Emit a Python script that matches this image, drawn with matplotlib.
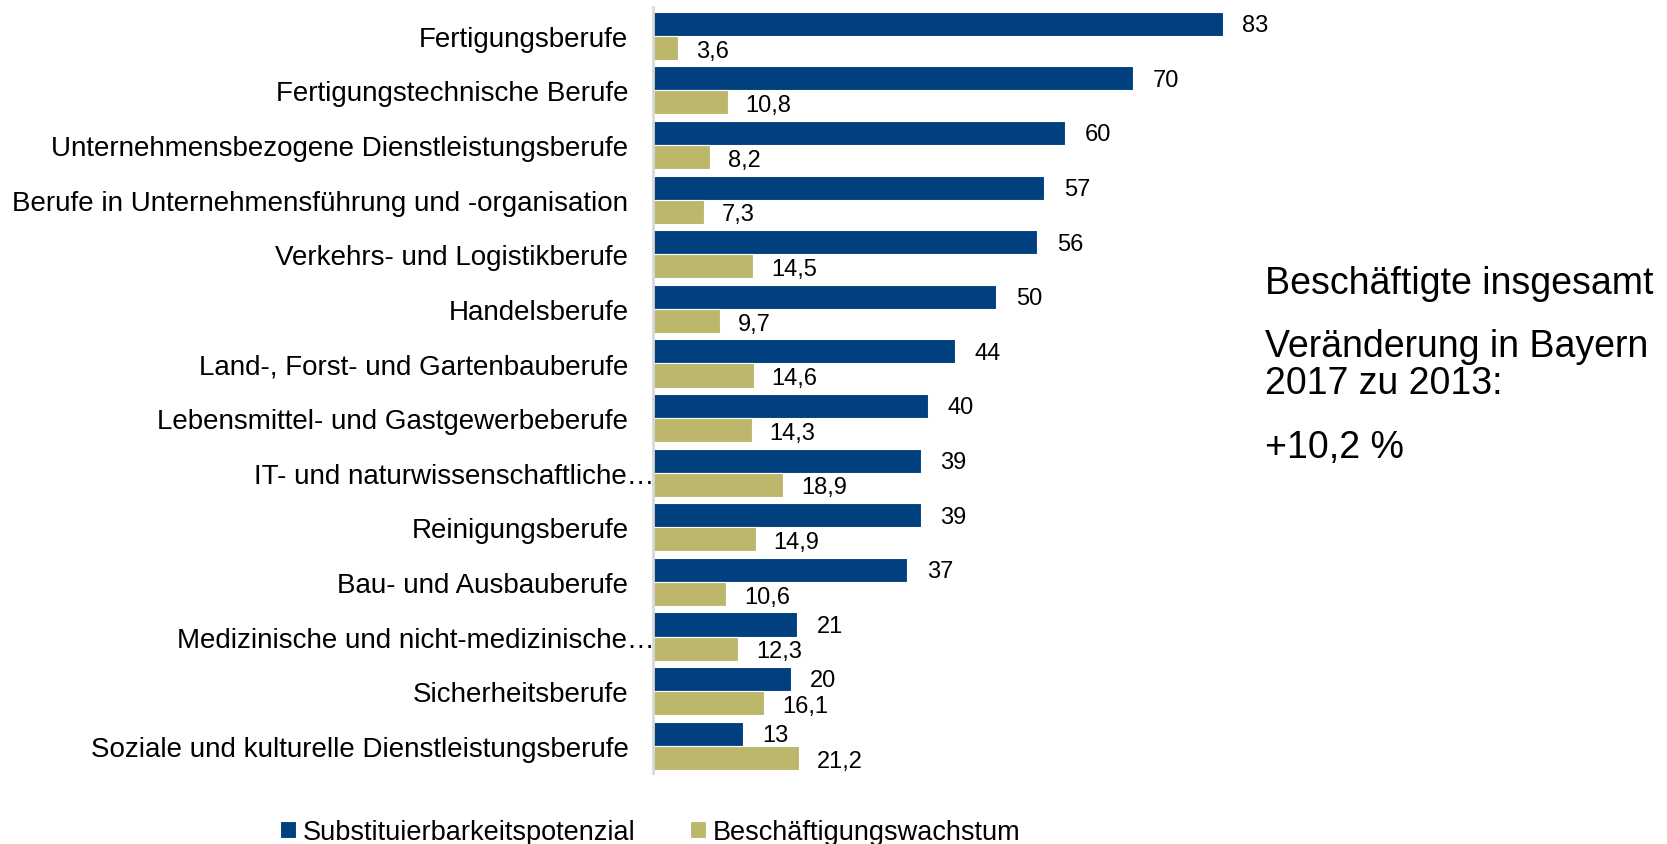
import matplotlib
matplotlib.use('Agg')
import matplotlib.pyplot as plt
import matplotlib.transforms as mtransforms
import numpy as np

plt.rcParams['font.family'] = ['Liberation Sans', 'DejaVu Sans']

# data
categories = ['Fertigungsberufe',
              'Fertigungstechnische Berufe',
              'Unternehmensbezogene Dienstleistungsberufe',
              'Berufe in Unternehmensführung und -organisation',
              'Verkehrs- und Logistikberufe',
              'Handelsberufe',
              'Land-, Forst- und Gartenbauberufe',
              'Lebensmittel- und Gastgewerbeberufe',
              'IT- und naturwissenschaftliche…',
              'Reinigungsberufe',
              'Bau- und Ausbauberufe',
              'Medizinische und nicht-medizinische…',
              'Sicherheitsberufe',
              'Soziale und kulturelle Dienstleistungsberufe']
substitution = [83, 70, 60, 57, 56, 50, 44, 40, 39, 39, 37, 21, 20, 13]
growth = [3.6, 10.8, 8.2, 7.3, 14.5, 9.7, 14.6, 14.3, 18.9, 14.9, 10.6, 12.3, 16.1, 21.2]
series_names = ['Substituierbarkeitspotenzial', 'Beschäftigungswachstum']

blue = '#00407E'
gold = '#BDB76B'


def fmt(v):
    # german decimal comma
    if float(v).is_integer():
        return '{0:d}'.format(int(v))
    return '{0:.1f}'.format(v).replace('.', ',')


fig = plt.figure(figsize=(16.67, 8.45), dpi=100)
ax = fig.add_axes([0.392, 0.084, 0.362, 0.906])

y = np.arange(len(categories))
h = 0.44
b1 = ax.barh(y - h / 2, substitution, height=h, color=blue, edgecolor='white', linewidth=0.8,
             label=series_names[0])
b2 = ax.barh(y + h / 2, growth, height=h, color=gold, edgecolor='white', linewidth=0.8,
             label=series_names[1])

for yy, v in zip(y - h / 2, substitution):
    ax.annotate(fmt(v), (v, yy), xytext=(14, -1), textcoords='offset points',
                ha='left', va='center', fontsize=17)
for yy, v in zip(y + h / 2, growth):
    ax.annotate(fmt(v), (v, yy), xytext=(13, -2), textcoords='offset points',
                ha='left', va='center', fontsize=17)

ax.set_xlim(0, 88)
ax.set_ylim(13.5, -0.52)
ax.set_yticks(y)
ax.set_yticklabels(categories, fontsize=20)
ax.tick_params(axis='y', length=0, pad=18)
ax.set_xticks([])

# truncated labels run a bit further right in the original
shift = mtransforms.ScaledTranslation(26 / 100, 0, fig.dpi_scale_trans)
for lab in ax.get_yticklabels():
    if lab.get_text().endswith('…'):
        lab.set_transform(lab.get_transform() + shift)

for side in ['top', 'right', 'bottom']:
    ax.spines[side].set_visible(False)
ax.spines['left'].set_color('#D9D9D9')
ax.spines['left'].set_linewidth(2)

# side note
fig.text(0.759, 0.664, 'Beschäftigte insgesamt', fontsize=27, va='center', ha='left')
fig.text(0.759, 0.589, 'Veränderung in Bayern', fontsize=27, va='center', ha='left')
fig.text(0.759, 0.545, '2017 zu 2013:', fontsize=27, va='center', ha='left')
fig.text(0.759, 0.470, '+10,2 %', fontsize=27, va='center', ha='left')

fig.legend(handles=[b1, b2], loc='center', bbox_to_anchor=(0.390, 0.014), ncol=2,
           frameon=False, fontsize=19.5, handlelength=0.6, handleheight=0.6,
           handletextpad=0.25, columnspacing=2.0, borderpad=0)

fig.savefig('out.png', dpi=100)
